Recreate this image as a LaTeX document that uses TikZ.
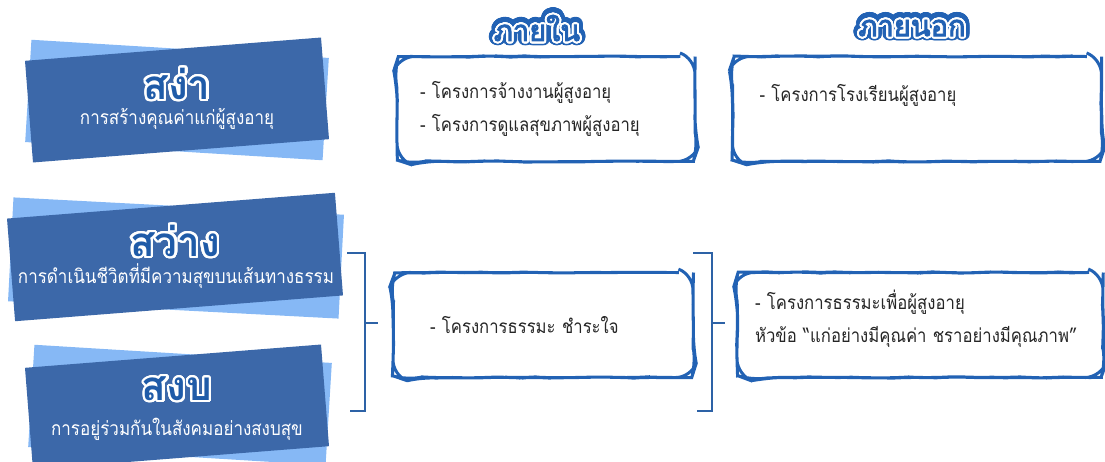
\documentclass[tikz,border=0pt]{standalone}
\usepackage{fontspec}
\newfontfamily\thaifont[Script=Thai]{Loma}
\newfontfamily\thaicond[Script=Thai, FakeStretch=0.88]{Loma}
\newfontfamily\thaiheavy[Script=Thai, FakeBold=3]{Loma}
\usepackage{contour}
\contournumber{32}
\usetikzlibrary{decorations.pathmorphing}

\definecolor{cardblue}{HTML}{3C68A9}
\definecolor{cardlight}{HTML}{86B8F5}
\definecolor{titleblue}{HTML}{1F5BA8}
\definecolor{boxblue}{HTML}{2262B4}
\definecolor{linkblue}{HTML}{2D62A6}

\begin{document}
\begin{tikzpicture}[
    x=0.02cm, y=-0.02cm,
    backcard/.style={fill=cardlight, inner sep=0pt},
    frontcard/.style={fill=cardblue, inner sep=0pt},
    cardtitle/.style={font=\thaifont\bfseries\fontsize{23}{25}\selectfont, text=titleblue},
    cardsub/.style={font=\thaicond\fontsize{11}{12}\selectfont, text=white},
    header/.style={font=\thaiheavy\fontsize{16.5}{19}\selectfont, text=boxblue},
    itembox/.style={draw=boxblue, line width=1.7pt, fill=white,
      decoration={random steps, segment length=8pt, amplitude=0.35pt},
      decorate, rounded corners=9pt, inner ysep=0pt, align=left,
      minimum height=2.1cm, font=\thaicond\fontsize{10.8}{18.5}\selectfont, text=black!85},
    bracket/.style={draw=linkblue, line width=1.4pt}
  ]
  \useasboundingbox (0,0) rectangle (1105,462);

  % Cards on the left
  \node[backcard, minimum width=5.96cm, minimum height=2.05cm, rotate=-3.5] (sangaback) at (177,100) {};
  \node[frontcard, minimum width=5.94cm, minimum height=2.04cm, rotate=4.5] (sanga) at (177,100) {};
  \node[cardtitle] (sangatitle) at (177,85) {\contourlength{1.3pt}\contour{white}{สง่า}};
  \node[cardsub] (sangasub) at (177,119) {การสร้างคุณค่าแก่ผู้สูงอายุ};

  \node[backcard, minimum width=6.62cm, minimum height=2.08cm, rotate=-3] (sawangback) at (176,258) {};
  \node[frontcard, minimum width=6.58cm, minimum height=2.06cm, rotate=4.5] (sawang) at (175,257) {};
  \node[cardtitle] (sawangtitle) at (175,242) {\contourlength{1.3pt}\contour{white}{สว่าง}};
  \node[cardsub] (sawangsub) at (176,276) {การดำเนินชีวิตที่มีความสุขบนเส้นทางธรรม};

  \node[backcard, minimum width=5.96cm, minimum height=2.05cm, rotate=-3.5] (sangobback) at (180,405) {};
  \node[frontcard, minimum width=5.94cm, minimum height=2.04cm, rotate=4.5] (sangob) at (177,407) {};
  \node[cardtitle] (sangobtitle) at (177,390) {\contourlength{1.3pt}\contour{white}{สงบ}};
  \node[cardsub] (sangobsub) at (177,429) {การอยู่ร่วมกันในสังคมอย่างสงบสุข};

  % Column headers
  \node[header] (insideback) at (537,29) {\contourlength{3.2pt}\contour{boxblue}{ภายใน}};
  \node[header] (inside) at (537,29) {\contourlength{1.1pt}\contour{white}{ภายใน}};
  \node[header] (outsideback) at (912,29) {\contourlength{3.2pt}\contour{boxblue}{ภายนอก}};
  \node[header] (outside) at (912,29) {\contourlength{1.1pt}\contour{white}{ภายนอก}};

  % Project boxes
  \node[itembox, text width=5.04cm, inner xsep=0.46cm] (inbox1) at (546,109)
    {- โครงการจ้างงานผู้สูงอายุ\\- โครงการดูแลสุขภาพผู้สูงอายุ};
  \node[itembox, text width=6.30cm, inner xsep=0.54cm] (outbox1) at (917,109)
    {- โครงการโรงเรียนผู้สูงอายุ\\\mbox{}};
  \node[itembox, text width=4.52cm, inner xsep=0.74cm] (inbox2) at (543,325)
    {- โครงการธรรมะ ชำระใจ};
  \node[itembox, text width=6.6cm, inner xsep=0.36cm] (outbox2) at (920,325)
    {- โครงการธรรมะเพื่อผู้สูงอายุ\\หัวข้อ “แก่อย่างมีคุณค่า ชราอย่างมีคุณภาพ”\par\vspace{0.26cm}\hrule height 0pt};

  % Brackets
  \coordinate (lbtop) at (347,253);
  \coordinate (lbbot) at (350,411);
  \coordinate (lbmid) at (365,323);
  \coordinate (rbtop) at (693,253);
  \coordinate (rbbot) at (697,411);
  \coordinate (rbmid) at (712,323);
  \draw[bracket] (lbtop) -| (lbmid) |- (lbbot);
  \draw[bracket] (lbmid) -- ++(13,0);
  \draw[bracket] (rbtop) -| (rbmid) |- (rbbot);
  \draw[bracket] (rbmid) -- ++(13,0);

\end{tikzpicture}
\end{document}
